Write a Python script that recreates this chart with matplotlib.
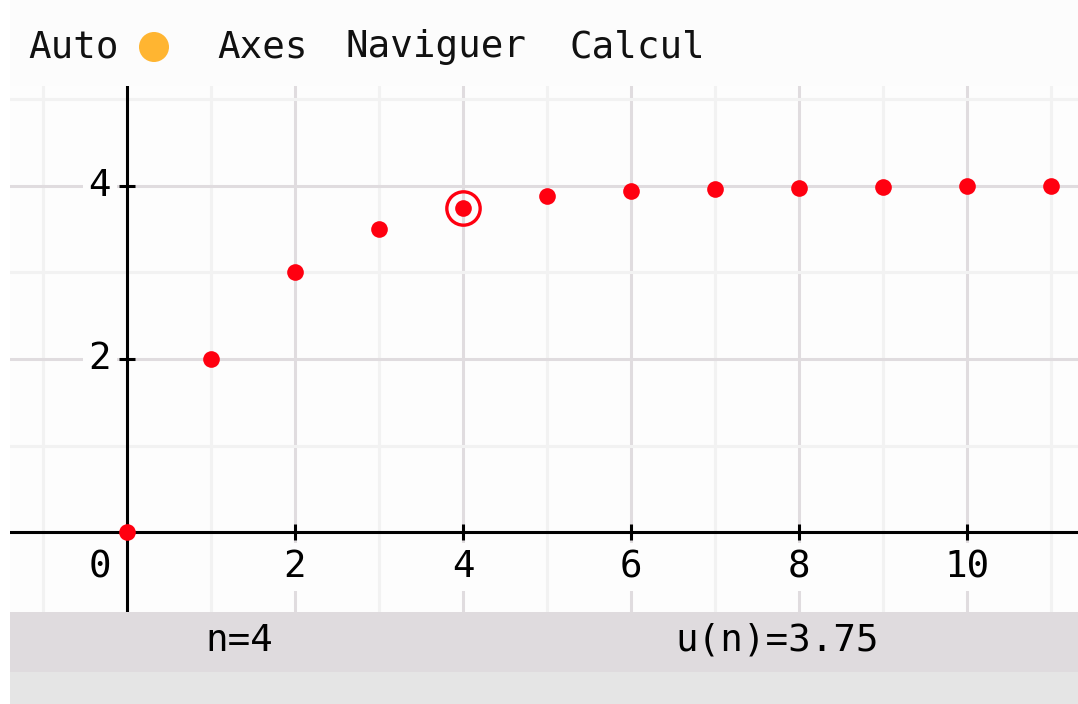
import matplotlib.pyplot as plt
from matplotlib.patches import Rectangle, Circle

n = [0, 1, 2, 3, 4, 5, 6, 7, 8, 9, 10, 11]
u = [0, 2, 3, 3.5, 3.75, 3.88, 3.94, 3.97, 3.98, 3.99, 4.0, 4.0]
n_sel = 4
u_sel = 3.75

x_ticks = [0, 2, 4, 6, 8, 10]
y_ticks = [2, 4]
menu = ["Auto", "Axes", "Naviguer", "Calcul"]
menu_x = [28, 217, 346, 569]

W, H = 1078, 704
mono = "DejaVu Sans Mono"
fs = 27

fig = plt.figure(figsize=(W / 100, H / 100), dpi=100)
fig.patch.set_facecolor("white")

# fond: barre du haut, bandeaux du bas
bg = fig.add_axes([0, 0, 1, 1])
bg.set_xlim(0, W)
bg.set_ylim(H, 0)
bg.axis("off")
bg.add_patch(Rectangle((10, 0), W - 10, 86, color="#fcfcfc", lw=0))
bg.add_patch(Rectangle((10, 612), W - 10, 60, color="#dfdbde", lw=0))
bg.add_patch(Rectangle((10, 672), W - 10, 32, color="#e5e5e5", lw=0))
for lab, x in zip(menu, menu_x):
    bg.text(x, 47, lab, family=mono, fontsize=fs, va="center", ha="left", color="#111111")
bg.add_patch(Circle((154, 47), 15, color="#ffb531", lw=0))
bg.text(205, 641, "n=" + str(n_sel), family=mono, fontsize=fs, va="center", ha="left")
bg.text(675, 641, "u(n)=" + str(u_sel), family=mono, fontsize=fs, va="center", ha="left")

# zone du graphe
ax = fig.add_axes([10 / W, (H - 612) / H, (W - 10) / W, (612 - 86) / H])
ax.set_facecolor("#fdfdfd")
for s in ax.spines.values():
    s.set_visible(False)

ax.set_xticks(range(-2, 13, 2))
ax.set_xticks(range(-1, 13, 2), minor=True)
ax.set_yticks(range(0, 6, 2))
ax.set_yticks(range(1, 6, 2), minor=True)
ax.tick_params(which="both", length=0, labelbottom=False, labelleft=False)
ax.grid(which="major", color="#e0dcdf", lw=2.2, zorder=0)
ax.grid(which="minor", color="#f2f2f2", lw=2.2, zorder=0)
ax.set_axisbelow(True)

x0, x1 = -117 / 84, 951 / 84
y0, y1 = -80 / 86.5, 446 / 86.5
ax.set_xlim(x0, x1)
ax.set_ylim(y0, y1)

# axes
ax.axhline(0, color="black", lw=2.2, zorder=2)
ax.axvline(0, color="black", lw=2.2, zorder=2)
ax.plot(x_ticks[1:], [0] * len(x_ticks[1:]), ls="", marker="|", ms=11, mew=2.2, color="black", zorder=2)
ax.plot([0] * len(y_ticks), y_ticks, ls="", marker="_", ms=11, mew=2.2, color="black", zorder=2)

box = dict(facecolor="#fdfdfd", edgecolor="none", pad=4)
for t in x_ticks:
    xx = t if t != 0 else -27 / 84
    ax.text(xx, -35 / 86.5, str(t), family=mono, fontsize=fs, ha="center", va="center",
            bbox=box, zorder=3)
for t in y_ticks:
    ax.text(-27 / 84, t, str(t), family=mono, fontsize=fs, ha="center", va="center",
            bbox=box, zorder=3)

# points
ax.plot(n, u, ls="", marker="o", ms=12, color="#ff0010", mew=0, zorder=4)
ax.plot([n_sel], [u_sel], ls="", marker="o", ms=24, mfc="none", mec="#ff0010", mew=2.4, zorder=4)

ax.set_xlim(x0, x1)
ax.set_ylim(y0, y1)

fig.savefig("out.png", dpi=100, facecolor=fig.get_facecolor())
